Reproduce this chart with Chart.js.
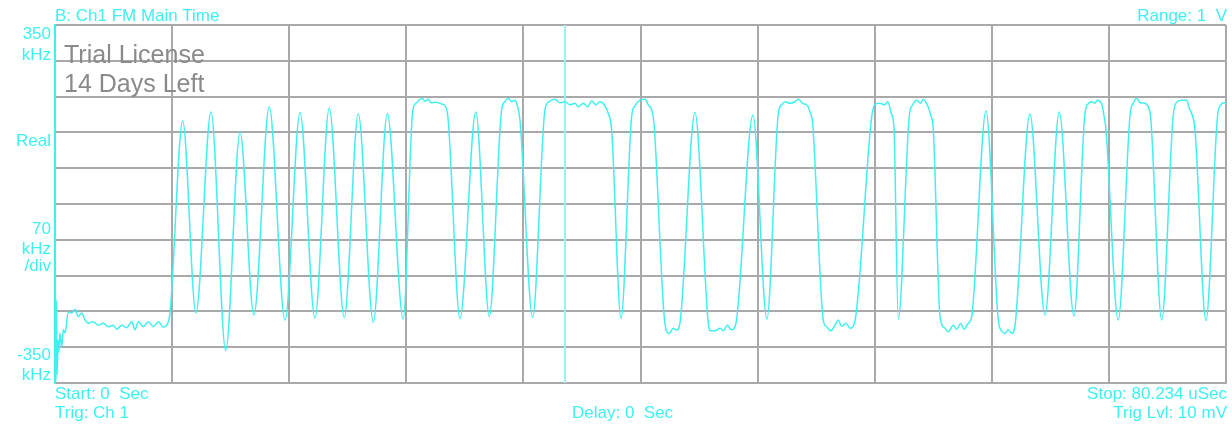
<!DOCTYPE html>
<html>
<head>
<meta charset="utf-8">
<title>Ch1 FM Main Time</title>
<script src="https://cdn.jsdelivr.net/npm/chart.js@4.4.1/dist/chart.umd.min.js"></script>
<style>
  body { margin: 0; background: #fff; }
  #wrap { position: relative; width: 1232px; height: 425px; overflow: hidden; }
  #scope { position: absolute; left: 0; top: 0; }
  .lbl {
    position: absolute;
    font: 17px/17px "Liberation Sans", Arial, sans-serif;
    color: #40f0f0;
    white-space: pre;
  }
  .yl { left: 0; width: 51px; text-align: right; }
  .wm {
    position: absolute;
    left: 64px;
    font: 25px/25px "Liberation Sans", Arial, sans-serif;
    color: #8a8a8a;
    white-space: pre;
  }
</style>
</head>
<body>
<div id="wrap">
  <canvas id="scope" width="1232" height="425"></canvas>

  <div class="lbl" style="left:55px; top:7px">B: Ch1 FM Main Time</div>
  <div class="lbl" style="right:5px; top:7px">Range: 1  V</div>

  <div class="lbl yl" style="top:25px">350</div>
  <div class="lbl yl" style="top:46px">kHz</div>
  <div class="lbl yl" style="top:132px">Real</div>
  <div class="lbl yl" style="top:220px">70</div>
  <div class="lbl yl" style="top:240px">kHz</div>
  <div class="lbl yl" style="top:257px">/div</div>
  <div class="lbl yl" style="top:346px">-350</div>
  <div class="lbl yl" style="top:366px">kHz</div>

  <div class="lbl" style="left:55px; top:385px">Start: 0  Sec</div>
  <div class="lbl" style="left:55px; top:404px">Trig: Ch 1</div>
  <div class="lbl" style="left:572px; top:404px">Delay: 0  Sec</div>
  <div class="lbl" style="right:5px; top:385px">Stop: 80.234 uSec</div>
  <div class="lbl" style="right:5px; top:404px">Trig Lvl: 10 mV</div>

  <div class="wm" style="top:42px">Trial License</div>
  <div class="wm" style="top:71px">14 Days Left</div>
</div>

<script>
// sweep: 0 .. 80.234 us, 10 divisions; FM deviation -350 .. 350 kHz at 70 kHz/div
var startUs = 0;
var stopUs = 80.234;
var xDivTicks = [0, 8.0234, 16.0468, 24.0702, 32.0936, 40.117, 48.1404, 56.1638, 64.1872, 72.2106, 80.234];
var yDivTicks = [-350, -280, -210, -140, -70, 0, 70, 140, 210, 280, 350];
var cursorUs = 34.94;

// demodulated trace, one line per burst / segment
var timeUs = [
  0, 0.03, 0.07, 0.10, 0.14, 0.21, 0.27, 0.34, 0.46, 0.57, 0.69, 0.91, 1.14, 1.37, 1.60, 1.83, 2.06, 2.28, 2.62, 2.97, 3.31, 3.65, 4.00, 4.23, 4.57, 4.91, 5.26, 5.48, 5.71, 6.05, 6.39, 6.74, 7.08, 7.42, 7.65, 7.88,
  8.75, 9.66, 10.69, 11.70, 12.68, 13.63, 14.68, 15.76, 16.79, 17.81, 18.79, 19.82, 20.78, 21.81, 22.77, 23.86,
  24.52, 24.78, 24.94, 25.15, 25.35, 25.56, 25.76, 26.11, 26.45, 26.72, 26.93,
  27.75, 28.83, 29.76,
  30.60, 30.83, 31.06, 31.29, 31.52, 31.70, 31.86,
  32.73,
  33.57, 33.85, 34.26, 34.60, 34.94, 35.29, 35.63, 35.85, 36.20, 36.50, 36.77, 37.05, 37.34, 37.64, 37.91, 38.14,
  38.78,
  39.51, 39.74, 40.08, 40.43, 40.65, 40.88, 41.04,
  41.79, 42.09, 42.36, 42.60, 42.82,
  43.85,
  44.76, 44.93, 45.22, 45.56, 45.79, 46.06, 46.36, 46.66,
  47.82, 48.78,
  49.56, 49.79, 50.02, 50.36, 50.70, 50.93, 51.27, 51.50, 51.73, 51.91,
  52.64, 52.87, 53.15, 53.44, 53.67, 53.90, 54.20, 54.47, 54.82,
  55.93, 56.16, 56.50, 56.84, 57.07, 57.30, 57.48,
  57.78,
  58.53, 58.77, 59.04, 59.31, 59.49, 59.76, 60.00, 60.18,
  60.64, 60.98, 61.21, 61.55, 61.78, 62.06, 62.28, 62.58, 62.81,
  63.79,
  64.63, 64.86, 65.09, 65.32, 65.55, 65.78,
  66.80, 67.83, 68.81, 69.82,
  70.57, 70.80, 71.03, 71.25, 71.41, 71.71, 71.87, 72.01,
  72.85,
  73.66, 73.88, 74.12, 74.34, 74.68, 74.91, 75.08,
  75.83,
  76.62, 76.90, 77.20, 77.54, 77.72, 77.88, 78.11,
  78.86,
  79.65, 79.88, 80.10, 80.234
];

var freqKHz = [
  -350, -174, -344, -188, -334, -266, -290, -252, -280, -246, -252, -211, -213, -206, -220, -213, -227, -233, -230, -237, -233, -240, -237, -245, -237, -242, -230, -246, -230, -240, -230, -240, -230, -241, -237, -213,
  163, -213, 180, -287, 141, -217, 190, -227, 179, -223, 187, -222, 176, -231, 177, -225,
  184, 198, 203, 207, 201, 205, 198, 199, 196, 192, 168,
  -224, 180, -220,
  184, 200, 207, 200, 203, 190, 164,
  -222,
  184, 200, 205, 198, 200, 194, 197, 190, 197, 190, 202, 194, 200, 194, 177, 145,
  -224,
  171, 192, 203, 205, 194, 184, 158,
  -233, -253, -243, -246, -233,
  179,
  -233, -248, -248, -243, -248, -237, -246, -233,
  174, -225,
  177, 194, 200, 197, 200, 205, 196, 194, 180, 158,
  -227, -240, -248, -237, -227, -239, -233, -243, -227,
  164, 194, 197, 194, 200, 177, 151,
  -225,
  171, 194, 203, 197, 205, 194, 174, 145,
  -220, -243, -250, -237, -245, -233, -245, -233, -220,
  182,
  -227, -248, -253, -246, -253, -237,
  176, -217, 180, -219,
  177, 196, 200, 197, 203, 196, 174, 145,
  -227,
  174, 197, 207, 198, 197, 190, 167,
  -227,
  174, 200, 203, 203, 187, 177, 145,
  -228,
  171, 194, 198, 197
];

var traceColor = "#40f0f0";
var gridColor = "#a9a9a9";

var tracePoints = timeUs.map(function(t, i) {
  return { x: t, y: freqKHz[i] };
});

var cursorPoints = [
  { x: cursorUs, y: yDivTicks[0] },
  { x: cursorUs, y: yDivTicks[yDivTicks.length - 1] }
];

function divTicks(list) {
  return function(scale) {
    scale.ticks = list.map(function(v) { return { value: v }; });
  };
}

var scope = new Chart(document.getElementById("scope"), {
  type: "line",
  data: {
    datasets: [{
      label: "Cursor",
      data: cursorPoints,
      borderColor: "#8ef8f8",
      borderWidth: 2,
      pointRadius: 0,
      order: 2
    }, {
      label: "Ch1 FM",
      data: tracePoints,
      borderColor: traceColor,
      borderWidth: 1.5,
      pointRadius: 0,
      cubicInterpolationMode: "monotone",
      order: 1
    }]
  },
  options: {
    responsive: false,
    animation: false,
    devicePixelRatio: 1,
    layout: {
      padding: { left: 55, right: 6, top: 25, bottom: 42 }
    },
    plugins: {
      legend: { display: false },
      tooltip: { enabled: false }
    },
    scales: {
      x: {
        type: "linear",
        min: startUs,
        max: stopUs,
        afterBuildTicks: divTicks(xDivTicks),
        ticks: { display: false },
        grid: { color: gridColor, lineWidth: 2, drawTicks: false },
        border: { color: gridColor, width: 2 }
      },
      y: {
        type: "linear",
        min: yDivTicks[0],
        max: yDivTicks[yDivTicks.length - 1],
        afterBuildTicks: divTicks(yDivTicks),
        ticks: { display: false },
        grid: { color: gridColor, lineWidth: 2, drawTicks: false },
        border: { color: traceColor, width: 2 }
      }
    }
  }
});
</script>
</body>
</html>
